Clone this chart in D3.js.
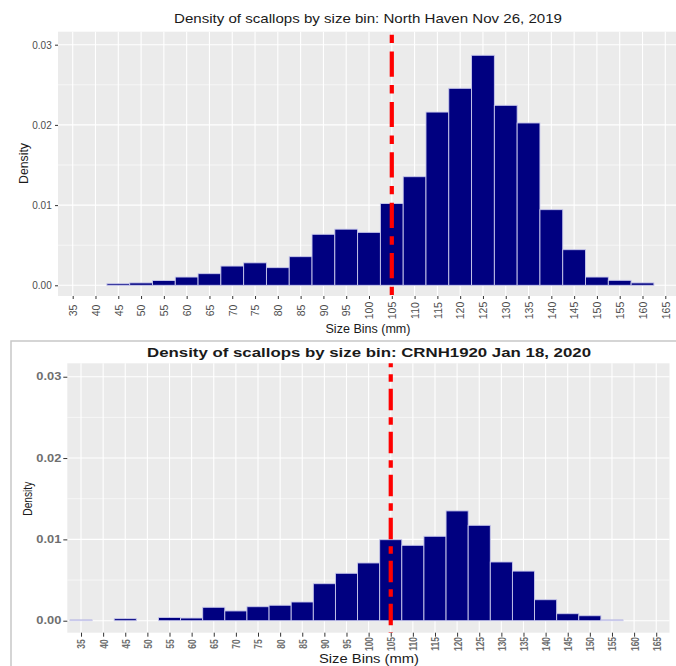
<!DOCTYPE html>
<html>
<head>
<meta charset="utf-8">
<script src="https://cdn.jsdelivr.net/npm/d3@7"></script>
<style>
html,body{margin:0;padding:0;background:#fff;}
svg{display:block;font-family:"Liberation Sans",Arial,sans-serif;}
</style>
</head>
<body>
<svg id="chart" width="676" height="666"></svg>
<script>
// ---- data ----
const sizeBins = [35,40,45,50,55,60,65,70,75,80,85,90,95,100,105,110,115,120,125,130,135,140,145,150,155,160,165];
const northHavenDensity = [0,0,0.0002,0.0003,0.0006,0.00103,0.00145,0.0024,0.0028,0.0022,0.00357,0.00636,0.0070,0.0066,0.0102,0.01354,0.0216,0.02456,0.02868,0.02244,0.02024,0.00943,0.00444,0.00103,0.00062,0.0003,0];
const crnhDensity = [0.0001,0,0.00025,0,0.0004,0.00033,0.00165,0.0012,0.00172,0.0019,0.0023,0.00455,0.00583,0.0071,0.00996,0.00927,0.01038,0.0135,0.01173,0.00722,0.0061,0.00258,0.00086,0.00061,0.0001,0,0];
const yTicks = [0, 0.01, 0.02, 0.03];
const yMinor = [0.005, 0.015, 0.025];
const cutoff = 105;
const titles = ["Density of scallops by size bin: North Haven Nov 26, 2019",
                "Density of scallops by size bin: CRNH1920 Jan 18, 2020"];
const xTitle = "Size Bins (mm)";
const yTitle = "Density";

const svg = d3.select("#chart");

function drawPanel(o) {
  const g = svg.append("g");
  const x = d3.scaleLinear().domain(o.xDom).range([o.left, o.right]);
  const y = d3.scaleLinear().domain(o.yDom).range([o.bottom, o.top]);

  g.append("rect").attr("x", o.left).attr("y", o.top)
    .attr("width", o.right - o.left).attr("height", o.bottom - o.top)
    .attr("fill", "#EBEBEB");

  g.selectAll(".ymin").data(yMinor).join("line")
    .attr("x1", o.left).attr("x2", o.right)
    .attr("y1", d => y(d)).attr("y2", d => y(d))
    .attr("stroke", "#fff").attr("stroke-width", 0.6);
  g.selectAll(".ymaj").data(yTicks).join("line")
    .attr("x1", o.left).attr("x2", o.right)
    .attr("y1", d => y(d)).attr("y2", d => y(d))
    .attr("stroke", "#fff").attr("stroke-width", 1.1);
  g.selectAll(".xmaj").data(sizeBins).join("line")
    .attr("y1", o.top).attr("y2", o.bottom)
    .attr("x1", d => x(d)).attr("x2", d => x(d))
    .attr("stroke", "#fff").attr("stroke-width", 1.1);

  const pts = sizeBins.map((b, i) => ({b, v: o.values[i]})).filter(d => d.v > 0);
  g.selectAll(".bar").data(pts).join("rect")
    .attr("x", d => x(d.b - 2.5)).attr("width", d => x(d.b + 2.5) - x(d.b - 2.5))
    .attr("y", d => y(d.v)).attr("height", d => y(0) - y(d.v))
    .attr("fill", "#000080").attr("stroke", "#c9c9ec").attr("stroke-width", 0.9);

  g.append("line")
    .attr("x1", x(cutoff)).attr("x2", x(cutoff))
    .attr("y1", o.top).attr("y2", o.bottom)
    .attr("stroke", "#FF0000").attr("stroke-width", 4.2)
    .attr("stroke-dasharray", o.dash).attr("stroke-dashoffset", o.dashOffset);

  const yAxis = d3.axisLeft(y).tickValues(yTicks).tickSize(o.tick).tickPadding(o.yPad)
    .tickFormat(d3.format(".2f"));
  const ya = g.append("g").attr("transform", `translate(${o.left},0)`).call(yAxis);
  ya.select(".domain").remove();
  ya.selectAll(".tick line").attr("stroke", "#333").attr("stroke-width", 1);
  ya.selectAll(".tick text").attr("fill", o.tickColor).style("font-size", o.yTickSize + "px")
    .style("font-weight", o.tickWeight)
    .attr("textLength", o.yTickLen).attr("lengthAdjust", "spacingAndGlyphs");

  const xAxis = d3.axisBottom(x).tickValues(sizeBins).tickSize(o.tick).tickFormat(d => d);
  const xa = g.append("g").attr("transform", `translate(0,${o.bottom})`).call(xAxis);
  xa.select(".domain").remove();
  xa.selectAll(".tick line").attr("stroke", "#333").attr("stroke-width", 1);
  xa.selectAll(".tick text")
    .attr("fill", o.tickColor).style("font-size", o.xTickSize + "px")
    .style("font-weight", o.tickWeight)
    .attr("text-anchor", "middle").attr("dy", null).attr("y", null)
    .attr("transform", `translate(0,${o.xLabelY - o.bottom}) rotate(-90) scale(1,${o.xStretch}) translate(0,${o.xTickSize * 0.36})`);

  g.append("text").attr("x", o.titleX).attr("y", o.titleY)
    .attr("text-anchor", "middle").attr("fill", "#1a1a1a")
    .style("font-size", o.titleSize + "px").style("font-weight", o.titleWeight)
    .attr("textLength", o.titleLen).attr("lengthAdjust", "spacingAndGlyphs")
    .text(o.title);
  g.append("text").attr("x", o.titleX).attr("y", o.xTitleY)
    .attr("text-anchor", "middle").attr("fill", "#1a1a1a")
    .style("font-size", o.axTitleSize + "px")
    .attr("textLength", o.xTitleLen).attr("lengthAdjust", "spacingAndGlyphs")
    .text(xTitle);
  g.append("text")
    .attr("transform", `translate(${o.yTitleX},${o.yTitleY}) rotate(-90)`)
    .attr("text-anchor", "middle").attr("fill", "#1a1a1a")
    .style("font-size", o.axTitleSize + "px")
    .attr("textLength", o.yTitleLen).attr("lengthAdjust", "spacingAndGlyphs")
    .text(yTitle);
}

drawPanel({
  values: northHavenDensity, title: titles[0],
  left: 58, right: 680, top: 31.7, bottom: 296,
  xDom: [31.775, 168.225], yDom: [-0.001334, 0.03162],
  dash: "8.4 8.4 25.2 8.4", dashOffset: 47.4,
  tick: 3, yPad: 3.3, tickColor: "#4d4d4d", tickWeight: "normal",
  yTickSize: 10.5, yTickLen: 19.5, xTickSize: 10.5, xLabelY: 310.5, xStretch: 1,
  titleX: 368, titleY: 23, titleSize: 13.5, titleWeight: "normal", titleLen: 388,
  xTitleY: 333, xTitleLen: 85, axTitleSize: 12,
  yTitleX: 28, yTitleY: 163.5, yTitleLen: 41
});

svg.append("rect").attr("x", 11).attr("y", 341).attr("width", 670).attr("height", 340)
  .attr("fill", "none").attr("stroke", "#c8c8c8").attr("stroke-width", 1.5);

drawPanel({
  values: crnhDensity, title: titles[1],
  left: 67.3, right: 669.5, top: 363.3, bottom: 632.7,
  xDom: [31.9, 168.0], yDom: [-0.001475, 0.03165],
  dash: "7.5 7 21.5 7", dashOffset: 32,
  tick: 4, yPad: 2, tickColor: "#6e6e6e", tickWeight: "bold",
  yTickSize: 10, yTickLen: 25, xTickSize: 8.5, xLabelY: 644, xStretch: 1.3,
  titleX: 369, titleY: 357, titleSize: 12, titleWeight: "bold", titleLen: 444,
  xTitleY: 663, xTitleLen: 100, axTitleSize: 12,
  yTitleX: 31.5, yTitleY: 498.7, yTitleLen: 34
});
</script>
</body>
</html>
